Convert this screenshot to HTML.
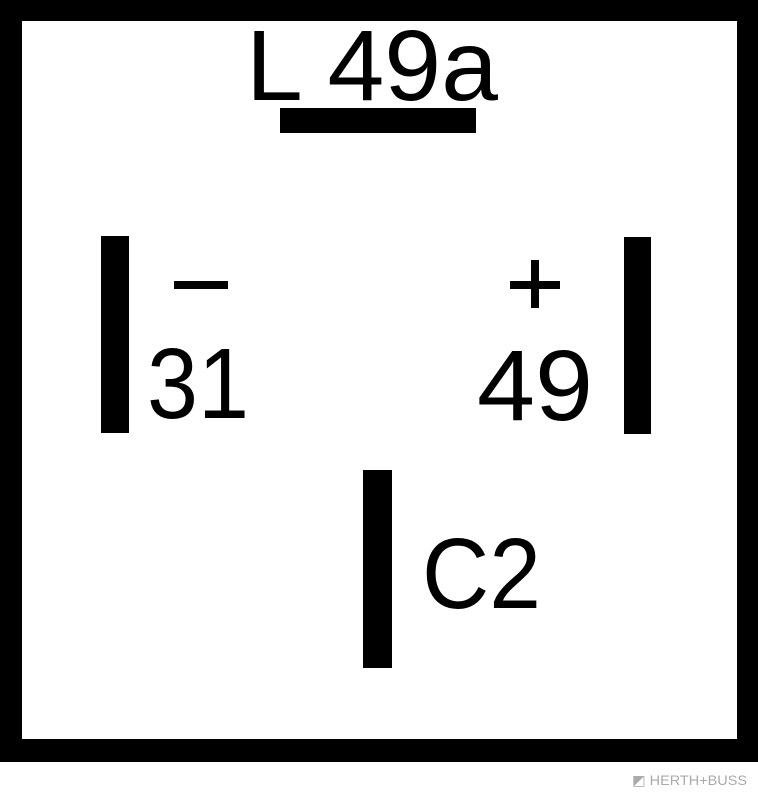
<!DOCTYPE html>
<html><head><meta charset="utf-8"><style>
html,body{margin:0;padding:0;background:#fff;}
svg{display:block;}
text{font-family:"Liberation Sans",Arial,sans-serif;fill:#000;}
</style></head><body>
<svg width="758" height="800" viewBox="0 0 758 800">
  <rect x="0" y="0" width="758" height="762" fill="#000"/>
  <rect x="22" y="21" width="715" height="718" fill="#fff"/>

  <text x="246" y="100" font-size="100" textLength="252" lengthAdjust="spacingAndGlyphs">L 49a</text>
  <rect x="280" y="108" width="196" height="25" fill="#000"/>

  <rect x="101" y="236" width="28" height="197" fill="#000"/>
  <rect x="174" y="281" width="54" height="8" fill="#000"/>
  <text x="147" y="418" font-size="100" textLength="102" lengthAdjust="spacingAndGlyphs">31</text>

  <rect x="624" y="237" width="27" height="197" fill="#000"/>
  <rect x="510" y="281" width="50" height="8" fill="#000"/>
  <rect x="531" y="260" width="8" height="48" fill="#000"/>
  <text x="477" y="420" font-size="100" textLength="116" lengthAdjust="spacingAndGlyphs">49</text>

  <rect x="363" y="470" width="29" height="198" fill="#000"/>
  <text x="422" y="608" font-size="100" textLength="119" lengthAdjust="spacingAndGlyphs">C2</text>

  <text x="632" y="785" font-size="14" style="fill:#aaa" textLength="115" lengthAdjust="spacingAndGlyphs">◩ HERTH+BUSS</text>
</svg>
</body></html>
